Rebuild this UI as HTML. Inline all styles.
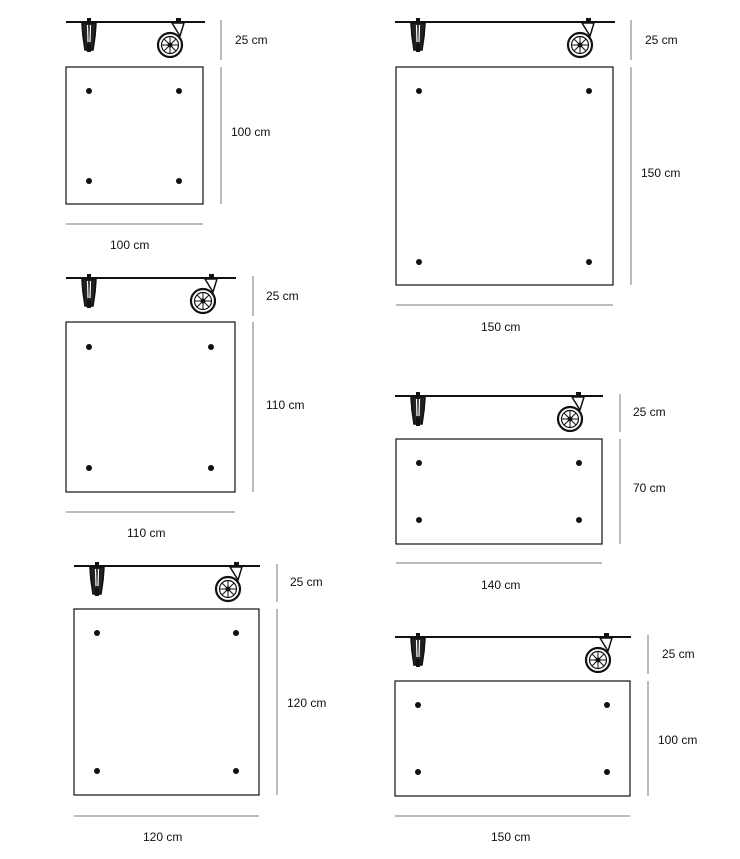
<!DOCTYPE html>
<html><head><style>
html,body{margin:0;padding:0;background:#fff;}
svg{display:block;}
text{font-family:"Liberation Sans",sans-serif;font-size:12px;fill:#111;}
</style></head><body>
<svg width="740" height="859" viewBox="0 0 740 859" xmlns="http://www.w3.org/2000/svg">
<defs>
<g id="fc">
<rect x="-2" y="-4" width="4" height="4" fill="#111"/>
<path d="M-7 1 L7 1 L6 14 L4 28 L-4 28 L-6 14 Z" fill="#222" stroke="#111" stroke-width="1.6"/>
<path d="M-1.5 3 L-1 20 M1.5 3 L1 20" stroke="#fff" stroke-width="1.2"/>
<rect x="-2" y="22" width="4" height="8" fill="#111"/>
</g>
<g id="wc">
<rect x="-2" y="-4" width="5" height="4" fill="#111"/>
<circle cx="-8" cy="23" r="12" fill="#fff" stroke="#111" stroke-width="2.2"/>
<circle cx="-8" cy="23" r="8.5" fill="none" stroke="#111" stroke-width="1.2"/>
<g stroke="#111" stroke-width="1">
<path d="M-16.5 23 L0.5 23 M-8 14.5 L-8 31.5 M-14 17 L-2 29 M-14 29 L-2 17"/>
</g>
<circle cx="-8" cy="23" r="2.5" fill="#111"/>
<path d="M-6 1 L6 1 L2 14 Z" fill="#fff" stroke="#111" stroke-width="1.5"/>
</g>
</defs>
<g fill="none" stroke="#111" stroke-width="1.2">
<path d="M66 22 L205 22 M395 22 L615 22 M66 278 L236 278 M395 396 L603 396 M74 566 L260 566 M395 637 L631 637" stroke-width="2"/>
<rect x="66" y="67" width="137" height="137"/>
<rect x="396" y="67" width="217" height="218"/>
<rect x="66" y="322" width="169" height="170"/>
<rect x="396" y="439" width="206" height="105"/>
<rect x="74" y="609" width="185" height="186"/>
<rect x="395" y="681" width="235" height="115"/>
</g>
<g stroke="#777" stroke-width="1" fill="none">
<path d="M221 20 L221 60 M221 67 L221 204 M66 224 L203 224"/>
<path d="M631 20 L631 60 M631 67 L631 285 M396 305 L613 305"/>
<path d="M253 276 L253 316 M253 322 L253 492 M66 512 L235 512"/>
<path d="M620 394 L620 432 M620 439 L620 544 M396 563 L602 563"/>
<path d="M277 564 L277 602 M277 609 L277 795 M74 816 L259 816"/>
<path d="M648 635 L648 674 M648 681 L648 796 M395 816 L630 816"/>
</g>
<g fill="#111">
<circle cx="89" cy="91" r="3"/><circle cx="179" cy="91" r="3"/><circle cx="89" cy="181" r="3"/><circle cx="179" cy="181" r="3"/>
<circle cx="419" cy="91" r="3"/><circle cx="589" cy="91" r="3"/><circle cx="419" cy="262" r="3"/><circle cx="589" cy="262" r="3"/>
<circle cx="89" cy="347" r="3"/><circle cx="211" cy="347" r="3"/><circle cx="89" cy="468" r="3"/><circle cx="211" cy="468" r="3"/>
<circle cx="419" cy="463" r="3"/><circle cx="579" cy="463" r="3"/><circle cx="419" cy="520" r="3"/><circle cx="579" cy="520" r="3"/>
<circle cx="97" cy="633" r="3"/><circle cx="236" cy="633" r="3"/><circle cx="97" cy="771" r="3"/><circle cx="236" cy="771" r="3"/>
<circle cx="418" cy="705" r="3"/><circle cx="607" cy="705" r="3"/><circle cx="418" cy="772" r="3"/><circle cx="607" cy="772" r="3"/>
</g>
<use href="#fc" x="89" y="22"/><use href="#wc" x="178" y="22"/>
<use href="#fc" x="418" y="22"/><use href="#wc" x="588" y="22"/>
<use href="#fc" x="89" y="278"/><use href="#wc" x="211" y="278"/>
<use href="#fc" x="418" y="396"/><use href="#wc" x="578" y="396"/>
<use href="#fc" x="97" y="566"/><use href="#wc" x="236" y="566"/>
<use href="#fc" x="418" y="637"/><use href="#wc" x="606" y="637"/>
<text x="235" y="44">25 cm</text><text x="231" y="136">100 cm</text><text x="110" y="249">100 cm</text>
<text x="645" y="44">25 cm</text><text x="641" y="177">150 cm</text><text x="481" y="331">150 cm</text>
<text x="266" y="300">25 cm</text><text x="266" y="409">110 cm</text><text x="127" y="537">110 cm</text>
<text x="633" y="416">25 cm</text><text x="633" y="492">70 cm</text><text x="481" y="589">140 cm</text>
<text x="290" y="586">25 cm</text><text x="287" y="707">120 cm</text><text x="143" y="841">120 cm</text>
<text x="662" y="658">25 cm</text><text x="658" y="744">100 cm</text><text x="491" y="841">150 cm</text>
</svg>
</body></html>
